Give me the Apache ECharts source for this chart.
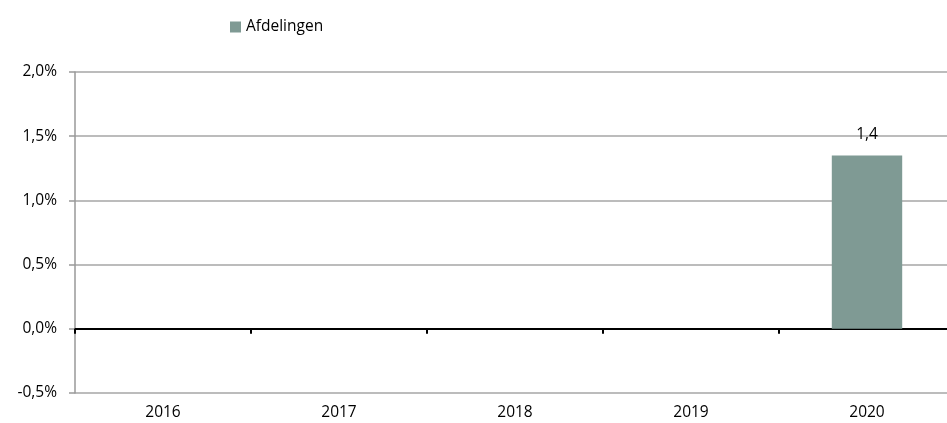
<!DOCTYPE html>
<html><head><meta charset="utf-8">
<script src="https://cdn.jsdelivr.net/npm/echarts@6/dist/echarts.min.js"></script>
<style>html,body{margin:0;padding:0;background:#fff}#c{width:947px;height:423px}</style>
</head><body><div id="c"></div>
<script>
const categories = ['2016', '2017', '2018', '2019', '2020'];
const seriesName = 'Afdelingen';
const afdelingen = [null, null, null, null, 1.35];
const yTicks = { min: -0.5, max: 2, interval: 0.5 };

const fmtPct = v => v.toFixed(1).replace('.', ',') + '%';
const FONT = 'Open Sans';
const FS = 15.5;
const chart = echarts.init(document.getElementById('c'), null, { renderer: 'canvas' });
chart.setOption({
  animation: false,
  textStyle: { fontFamily: FONT },
  legend: {
    data: [seriesName], left: 225, top: 14, itemWidth: 11, itemHeight: 11, itemGap: 3,
    icon: 'rect', textStyle: { fontSize: FS, color: '#000', fontFamily: FONT, padding: [0,0,0,0] }
  },
  grid: { left: 75, width: 880, top: 72, bottom: 30, containLabel: false, outerBoundsMode: 'none' },
  xAxis: [
    {
      type: 'category', data: categories, position: 'bottom',
      axisLine: { onZero: true, lineStyle: { color: '#000', width: 2 } },
      axisTick: { show: true, length: 5, lineStyle: { color: '#000', width: 2 } },
      axisLabel: { show: false }, splitLine: { show: false }
    },
    {
      type: 'category', data: categories, position: 'bottom',
      axisLine: { show: false, onZero: false }, axisTick: { show: false },
      axisLabel: { show: true, margin: 12, fontSize: FS, color: '#000', fontFamily: FONT },
      splitLine: { show: false }
    }
  ],
  yAxis: {
    type: 'value', min: yTicks.min, max: yTicks.max, interval: yTicks.interval,
    axisLine: { show: true, lineStyle: { color: '#999', width: 1.5 } },
    axisTick: { show: true, length: 6, lineStyle: { color: '#999', width: 1.5 } },
    axisLabel: { formatter: fmtPct, fontSize: FS, color: '#000', margin: 18, fontFamily: FONT },
    splitLine: { show: true, lineStyle: { color: '#a6a6a6', width: 1.5 } }
  },
  series: [{
    name: seriesName, type: 'bar', data: afdelingen, xAxisIndex: 0, barWidth: '40%',
    itemStyle: { color: '#7f9a94' },
    label: {
      show: true, position: 'top', distance: 13, fontSize: FS, color: '#000', fontFamily: FONT,
      formatter: p => p.value == null ? '' : p.value.toFixed(1).replace('.', ',')
    }
  }]
});
</script></body></html>
